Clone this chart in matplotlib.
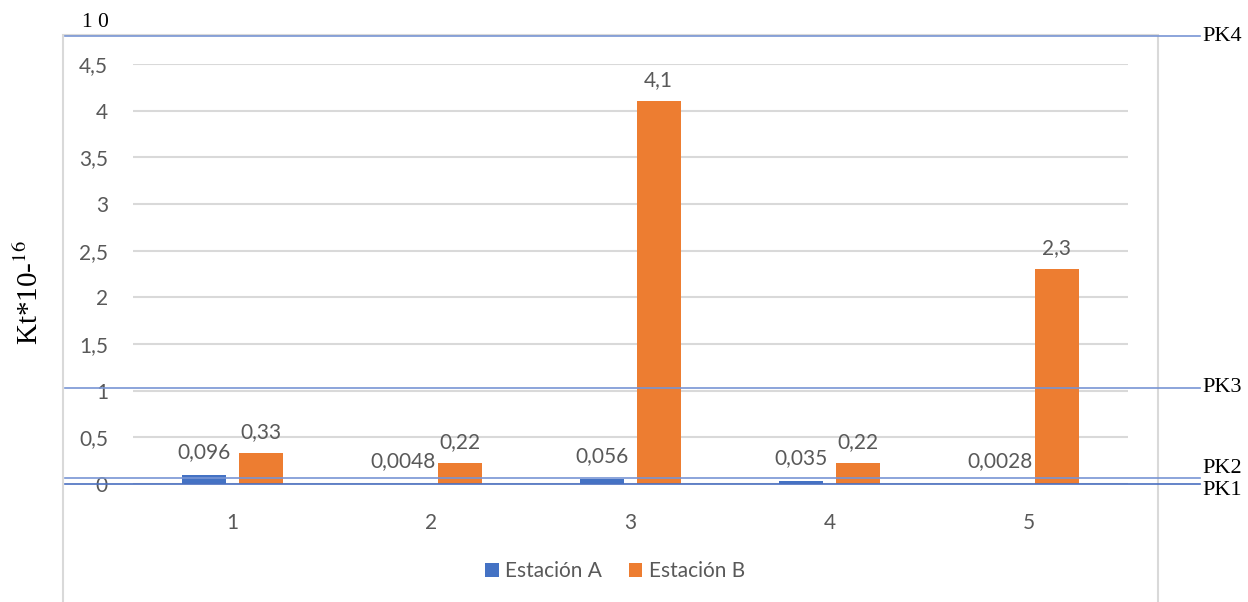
import matplotlib
matplotlib.use("Agg")
import matplotlib.pyplot as plt
import matplotlib.transforms as mtransforms
from matplotlib.patches import Rectangle
import numpy as np

# Data
categories = ["1", "2", "3", "4", "5"]
estacion_a = [0.096, 0.0048, 0.056, 0.035, 0.0028]
estacion_b = [0.33, 0.22, 4.1, 0.22, 2.3]
series_names = ["Estación A", "Estación B"]
y_ticks = [0, 0.5, 1, 1.5, 2, 2.5, 3, 3.5, 4, 4.5]
pk_names = ["PK1", "PK2", "PK3", "PK4"]
pk_levels = [0.0, 0.061, 1.03, 4.80]

W, H = 1248, 602
fig = plt.figure(figsize=(W / 100, H / 100), dpi=100)
ax = fig.add_axes([133 / W, 1 - 484 / H, (1128 - 133) / W, (484 - 64) / H])

sans = "Lato"
serif = "Liberation Serif"
txt_color = "#595959"
blue = "#4472C4"
orange = "#ED7D31"
grid_c = "#D9D9D9"


def fmt(v):
    return f"{v:g}".replace(".", ",")


x = np.arange(1, len(categories) + 1)
w = 0.22
off = 0.142
bars_a = ax.bar(x - off, estacion_a, w, color=blue, label=series_names[0], zorder=3)
bars_b = ax.bar(x + off, estacion_b, w, color=orange, label=series_names[1], zorder=3)

for bars, vals, dy in ((bars_a, estacion_a, 9), (bars_b, estacion_b, 8)):
    for b, v in zip(bars, vals):
        ax.annotate(fmt(v), (b.get_x() + b.get_width() / 2, v), xytext=(0, dy),
                    textcoords="offset points", ha="center", va="bottom",
                    fontsize=15, family=sans, color=txt_color, zorder=4)

ax.set_xlim(0.5, 5.5)
ax.set_ylim(0, 4.5)
ax.set_xticks(x)
ax.set_xticklabels(categories)
ax.set_yticks(y_ticks)
ax.set_yticklabels([fmt(t) for t in y_ticks])
ax.tick_params(length=0, labelsize=15, labelcolor=txt_color)
ax.tick_params(axis="x", pad=21)
ax.tick_params(axis="y", pad=18)
for lab in ax.get_xticklabels() + ax.get_yticklabels():
    lab.set_family(sans)
for s in ax.spines.values():
    s.set_visible(False)
ax.yaxis.grid(True, color=grid_c, linewidth=1.5, zorder=0)
ax.set_axisbelow(True)
ax.patch.set_alpha(0)

# Outer chart frame, kept beneath everything else
fig.patches.append(Rectangle((63 / W, -0.02), (1158 - 63) / W, 0.02 + 1 - 35 / H,
                             transform=fig.transFigure, fill=False,
                             edgecolor=grid_c, linewidth=1.5, zorder=-1))

# Reference levels drawn across the chart
trans = mtransforms.blended_transform_factory(fig.transFigure, ax.transData)
pk_colors = ["#4a6fc0", "#7895d4", "#7895d4", "#7895d4"]
pk_label_dy = [-0.07, 0.1, 0.0, -0.01]
for name, lvl, c, dy in zip(pk_names, pk_levels, pk_colors, pk_label_dy):
    ax.plot([65 / W, 1200 / W], [lvl, lvl], transform=trans, color=c,
            linewidth=1.2, clip_on=False, zorder=5)
    ax.text(1202 / W, lvl + dy, name, transform=trans, ha="left", va="center",
            fontsize=16, family=serif, color="black")

fig.text(82 / W, 1 - 27 / H, "1 0", ha="left", va="baseline",
         fontsize=15.5, family=serif, color="black")

plt.rcParams["mathtext.fontset"] = "stix"
fig.text(30 / W, 1 - 293 / H, r"Kt*10-$^{16}$", rotation=90, ha="center",
         va="center", fontsize=21, family=serif, color="black")

fig.legend(handles=[bars_a, bars_b], labels=series_names, loc="center",
           bbox_to_anchor=(615 / W, 1 - 571 / H), ncol=2, frameon=False,
           prop={"family": sans, "size": 15}, handlelength=0.65,
           handleheight=0.65, handletextpad=0.3, columnspacing=1.3,
           labelcolor=txt_color)

fig.savefig("out.png", dpi=100)
